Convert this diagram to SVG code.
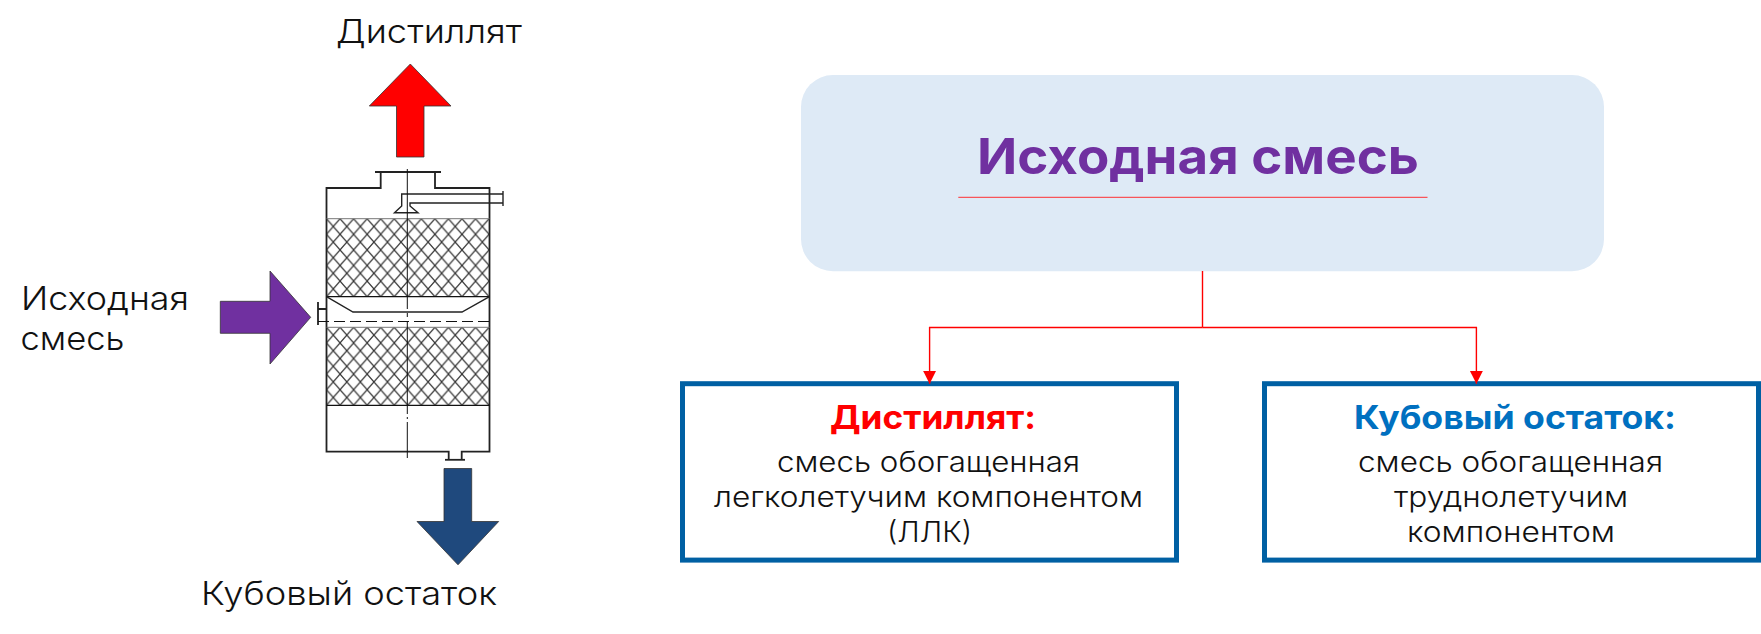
<svg xmlns="http://www.w3.org/2000/svg" width="1761" height="634" viewBox="0 0 1761 634">
<style>
text{font-family:"Inter","Noto Sans","DejaVu Sans",sans-serif;fill:#111;font-weight:300}
.b{font-weight:700}
.col{fill:none;stroke:#222;stroke-width:1.8}
.thin{fill:none;stroke:#222;stroke-width:1.4}
.arr{stroke:#333;stroke-width:.8}
.box{fill:#fff;stroke:#0060A3;stroke-width:5}
.con{fill:none;stroke:#FF0000;stroke-width:1.4}
</style>
<defs>
<pattern id="h1" patternUnits="userSpaceOnUse" x="326.5" y="218.7" width="13.55" height="15.6"><path d="M0 0L13.55 15.6M13.55 0L0 15.6" stroke="#333" stroke-width="1.2" fill="none"/></pattern>
<pattern id="h2" patternUnits="userSpaceOnUse" x="326.5" y="327.3" width="13.55" height="15.6"><path d="M0 0L13.55 15.6M13.55 0L0 15.6" stroke="#333" stroke-width="1.2" fill="none"/></pattern>
<marker id="ah" markerUnits="userSpaceOnUse" markerWidth="14" markerHeight="14" refX="13" refY="6.6" orient="auto"><path d="M0 0L13 6.6L0 13.2Z" fill="#FF0000"/></marker>
</defs>

<g id="column">
<rect x="326.5" y="218.7" width="163" height="78" fill="url(#h1)"/>
<rect x="326.5" y="327.3" width="163" height="78" fill="url(#h2)"/>
<path class="col" d="M375 172H441M380.7 172V188H326.5V451.7H448.7V459.5M461.7 459.5V451.7H489.5V188H435V172"/>
<path class="col" d="M445 459.8H465"/>
<path d="M326.5 218.7H489.5" stroke="#777" stroke-width="1" fill="none"/>
<path d="M326.5 296.7H489.5M326.5 405.3H489.5" stroke="#111" stroke-width="1.2" fill="none"/>
<path d="M326.5 327.3H489.5" stroke="#777" stroke-width="1" fill="none"/>
<path class="thin" d="M326.5 296.7L353 312H462L489.5 296.7"/>
<path class="thin" d="M503 194H401.7V206L394.5 212.7H418L410 206V203H503M503 191V206"/>
<path class="col" d="M318 302V325M318 309H326.5"/>
<path d="M318 321.5H489.5" fill="none" stroke="#111" stroke-width="1.2" stroke-dasharray="11 5"/>
<path d="M407.3 169V309M407.3 313V317M407.3 321V414M407.3 417V419M407.3 422V458" fill="none" stroke="#111" stroke-width="1"/>
</g>

<g id="arrow-distillate"><path class="arr" fill="#FF0000" d="M410.3 64L451 106H424V157H396.5V106H369.3Z"/></g>
<g id="arrow-feed"><path class="arr" fill="#7030A0" d="M220.3 301.3H270V271L310.7 317.3L270 364V333.3H220.3Z"/></g>
<g id="arrow-bottoms"><path class="arr" fill="#1F497D" d="M444 468.5H471.7V521.5H498.7L458 564.8L417 521.5H444Z"/></g>

<g id="label-distillate"><text x="336" y="42.7" font-size="33" textLength="186" lengthAdjust="spacingAndGlyphs">Дистиллят</text></g>
<g id="label-feed">
<text x="21" y="310" font-size="33" textLength="168" lengthAdjust="spacingAndGlyphs">Исходная</text>
<text x="20.5" y="350" font-size="33" textLength="104" lengthAdjust="spacingAndGlyphs">смесь</text>
</g>
<g id="label-bottoms"><text x="201" y="604.5" font-size="33" textLength="296" lengthAdjust="spacingAndGlyphs">Кубовый остаток</text></g>

<g id="node-feed">
<rect x="801" y="75" width="803" height="196.3" rx="32" fill="#DEEAF6"/>
<text class="b" x="977" y="174" font-size="50" textLength="442" lengthAdjust="spacingAndGlyphs" style="fill:#7030A0">Исходная смесь</text>
<path d="M958.3 197.3H1427.5" stroke="#F8555A" stroke-width="1.2" fill="none"/>
</g>

<g id="node-distillate">
<rect class="box" x="682.5" y="383.7" width="494" height="176.4"/>
<text class="b" x="830" y="429" font-size="33" textLength="206" lengthAdjust="spacingAndGlyphs" style="fill:#FF0000">Дистиллят:</text>
<text x="777" y="472" font-size="28" textLength="303" lengthAdjust="spacingAndGlyphs">смесь обогащенная</text>
<text x="714" y="507" font-size="28" textLength="429" lengthAdjust="spacingAndGlyphs">легколетучим компонентом</text>
<text x="887" y="542" font-size="28" textLength="85" lengthAdjust="spacingAndGlyphs">(ЛЛК)</text>
</g>

<g id="node-bottoms">
<rect class="box" x="1264.5" y="383.7" width="494" height="176.4"/>
<text class="b" x="1354" y="429" font-size="33" textLength="322" lengthAdjust="spacingAndGlyphs" style="fill:#0070C0">Кубовый остаток:</text>
<text x="1358" y="472" font-size="28" textLength="305" lengthAdjust="spacingAndGlyphs">смесь обогащенная</text>
<text x="1394" y="507" font-size="28" textLength="234" lengthAdjust="spacingAndGlyphs">труднолетучим</text>
<text x="1407" y="542" font-size="28" textLength="208" lengthAdjust="spacingAndGlyphs">компонентом</text>
</g>

<g id="connectors">
<path class="con" d="M1202.5 271V327.5"/>
<path class="con" marker-end="url(#ah)" d="M1202.5 327.5H929.6V383.7"/>
<path class="con" marker-end="url(#ah)" d="M1202.5 327.5H1476.4V383.7"/>
</g>
</svg>
